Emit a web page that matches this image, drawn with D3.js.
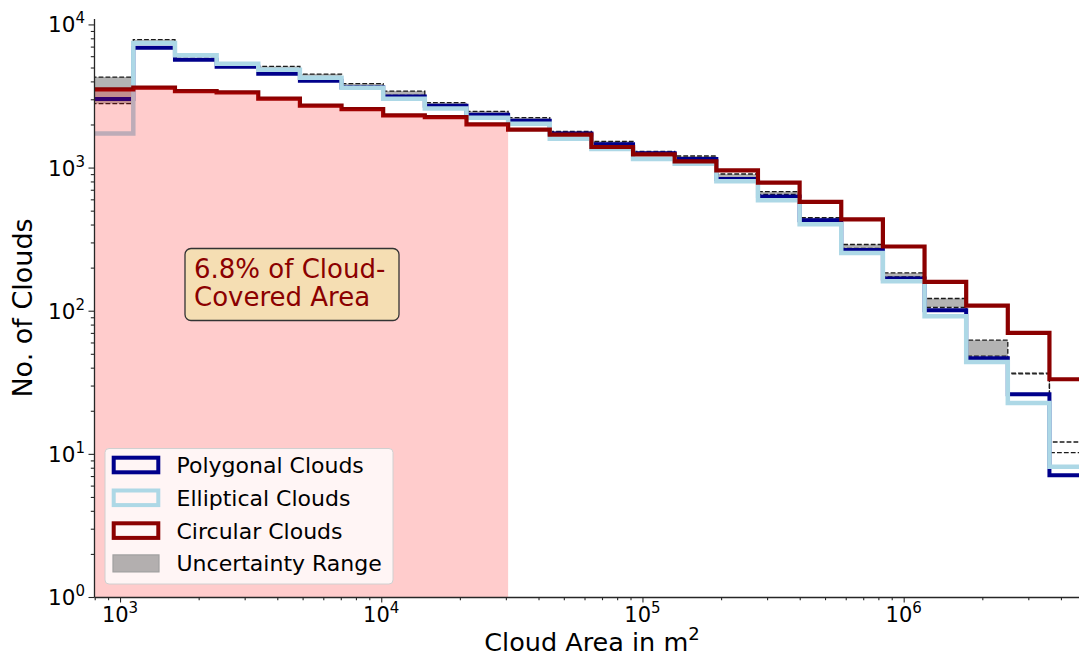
<!DOCTYPE html>
<html><head><meta charset="utf-8">
<script src="https://cdn.jsdelivr.net/npm/d3@7"></script>
<style>body{margin:0;background:#fff} svg{display:block} text{font-family:"DejaVu Sans",sans-serif}</style>
</head><body><svg id="c" width="1079" height="657"></svg>
<script>
// ---- data ----
const binEdges = [779, 1124, 1623, 2343, 3382, 4882, 7047, 10172, 14683, 21200, 30600, 44170, 63760, 92040, 132860, 191800, 276800, 399600, 576800, 832600, 1202000, 1735000, 2504000, 3614000, 5218000];
const polygonal  = [3010, 6880, 5670, 5070, 4530, 4045, 3640, 3143, 2707, 2342, 2127, 1730, 1453, 1260, 1150, 832, 627, 428, 266, 168, 100.8, 46.6, 26.1, 7.1];
const elliptical = [1730, 7410, 6080, 5320, 4830, 4245, 3615, 3030, 2581, 2232, 2027, 1592, 1350, 1148, 1065, 802, 591, 402, 253, 160.7, 91.5, 43.9, 22.7, 8.13];
const circular   = [3520, 3620, 3420, 3350, 3030, 2706, 2564, 2316, 2254, 2004, 1841, 1698, 1392, 1237, 1106, 957, 785, 575, 435, 281, 159, 108.4, 70, 33.2];
const rangeLower = [2800, 7400, 5950, 5250, 4850, 4270, 3740, 3194, 2735, 2366, 2161, 1742, 1480, 1265, 1155, 851, 650, 436, 272, 172, 105.3, 48.1, 36.2, 10.2];
const rangeUpper = [4290, 7820, 6120, 5380, 5090, 4500, 3855, 3425, 2840, 2471, 2232, 1791, 1525, 1298, 1205, 902, 679, 447, 290, 183.6, 121.7, 62.3, 36.6, 12.1];
const shadeLimit = 30600;
const xTickValues = [1e3, 1e4, 1e5, 1e6];
const yTickValues = [1, 10, 100, 1000, 10000];
const annotationLines = ["6.8% of Cloud-", "Covered Area"];
const legendLabels = ["Polygonal Clouds", "Elliptical Clouds", "Circular Clouds", "Uncertainty Range"];
const xLabel = "Cloud Area in m";
const yLabel = "No. of Clouds";

// ---- layout ----
const svg = d3.select("#c");
const L = 94, R = 1079, T = 18.5, B = 597;
const x = d3.scaleLog().domain([795, 4.69e6]).range([L, R]);
const y = d3.scaleLog().domain([1, 11000]).range([B, T]);

svg.append("defs").append("clipPath").attr("id", "clip")
  .append("rect").attr("x", L).attr("y", T).attr("width", R - L).attr("height", B - T);
const plot = svg.append("g").attr("clip-path", "url(#clip)");

function steps(vals) {
  const pts = [];
  for (let i = 0; i < vals.length; i++) {
    pts.push([binEdges[i], vals[i]]);
    pts.push([binEdges[i + 1], vals[i]]);
  }
  return pts;
}
const line = d3.line().x(d => x(d[0])).y(d => y(d[1]));

// uncertainty fill (step-post style: last two bins not filled)
const nFill = polygonal.length - 2;
const fillPts = [];
for (let i = 0; i < nFill; i++) {
  fillPts.push([binEdges[i], rangeLower[i], rangeUpper[i]]);
  fillPts.push([binEdges[i + 1], rangeLower[i], rangeUpper[i]]);
}
plot.append("path").datum(fillPts)
  .attr("d", d3.area().x(d => x(d[0])).y0(d => y(d[1])).y1(d => y(d[2])))
  .attr("fill", "#808080").attr("fill-opacity", 0.6);

[rangeLower, rangeUpper].forEach(arr => {
  plot.append("path").datum(steps(arr)).attr("d", line)
    .attr("fill", "none").attr("stroke", "#1a1a1a").attr("stroke-width", 1.3)
    .attr("stroke-dasharray", "4.8,2.1");
});

const series = [
  {vals: polygonal, color: "#00008B", w: 4},
  {vals: elliptical, color: "#ADD8E6", w: 4.5},
  {vals: circular, color: "#8B0000", w: 4.2}
];
series.forEach(s => {
  plot.append("path").datum(steps(s.vals)).attr("d", line)
    .attr("fill", "none").attr("stroke", s.color).attr("stroke-width", s.w)
    .attr("stroke-linejoin", "miter");
});

// red shaded area under circular curve up to shadeLimit
const shadePts = [];
circular.forEach((v, i) => {
  if (binEdges[i + 1] <= shadeLimit) {
    shadePts.push([binEdges[i], v]);
    shadePts.push([binEdges[i + 1], v]);
  }
});
plot.append("path").datum(shadePts)
  .attr("d", d3.area().x(d => x(d[0])).y0(B).y1(d => y(d[1])))
  .attr("fill", "rgb(255,0,0)").attr("fill-opacity", 0.2);

// ---- axes ----
const axisColor = "#262626";
function minorTicks(domain) {
  const out = [];
  for (let e = Math.floor(Math.log10(domain[0])); e <= Math.ceil(Math.log10(domain[1])); e++) {
    for (let k = 2; k <= 9; k++) {
      const v = k * Math.pow(10, e);
      if (v >= domain[0] && v <= domain[1]) out.push(v);
    }
  }
  return out;
}
svg.append("g").attr("transform", `translate(0,${B})`)
  .call(d3.axisBottom(x).tickValues(xTickValues).tickFormat("").tickSize(5.5).tickSizeOuter(0));
const xMinor = svg.append("g").attr("transform", `translate(0,${B})`)
  .call(d3.axisBottom(x).tickValues(minorTicks(x.domain())).tickFormat("").tickSize(3.2).tickSizeOuter(0));
xMinor.select(".domain").remove();
svg.append("g").attr("transform", `translate(${L},0)`)
  .call(d3.axisLeft(y).tickValues(yTickValues).tickFormat("").tickSize(5.5).tickSizeOuter(0));
const yMinor = svg.append("g").attr("transform", `translate(${L},0)`)
  .call(d3.axisLeft(y).tickValues(minorTicks(y.domain())).tickFormat("").tickSize(3.2).tickSizeOuter(0));
yMinor.select(".domain").remove();
svg.selectAll(".domain").attr("stroke", axisColor).attr("stroke-width", 1.3);
svg.selectAll(".tick line").attr("stroke", axisColor).attr("stroke-width", 1.1);

xTickValues.forEach(v => {
  const t = svg.append("text").attr("x", x(v)).attr("y", 621.5).attr("text-anchor", "middle")
    .attr("font-size", 21).attr("fill", "#000");
  t.append("tspan").text("10");
  t.append("tspan").attr("font-size", 15).attr("dy", -9).text(Math.round(Math.log10(v)));
});
yTickValues.forEach(v => {
  const t = svg.append("text").attr("x", 85).attr("y", y(v) + 8).attr("text-anchor", "end")
    .attr("font-size", 21.5).attr("fill", "#000");
  t.append("tspan").text("10");
  t.append("tspan").attr("font-size", 15).attr("dy", -9).text(Math.round(Math.log10(v)));
});

const xl = svg.append("text").attr("x", 592).attr("y", 651).attr("text-anchor", "middle")
  .attr("font-size", 25.5).attr("fill", "#000");
xl.append("tspan").text(xLabel);
xl.append("tspan").attr("font-size", 18).attr("dy", -11).text("2");
svg.append("text").attr("transform", "translate(32,308) rotate(-90)").attr("text-anchor", "middle")
  .attr("font-size", 27).attr("fill", "#000").text(yLabel);

// ---- annotation box ----
svg.append("rect").attr("x", 185).attr("y", 248.5).attr("width", 214).attr("height", 72)
  .attr("rx", 6).attr("fill", "#F5DEB3").attr("stroke", "#333").attr("stroke-width", 1.3);
annotationLines.forEach((s, i) => {
  svg.append("text").attr("x", 194).attr("y", 278 + i * 28).attr("font-size", 26)
    .attr("fill", "#8B0000").text(s);
});

// ---- legend ----
const lg = svg.append("g");
lg.append("rect").attr("x", 105).attr("y", 448.5).attr("width", 288).attr("height", 135.5)
  .attr("rx", 4).attr("fill", "#fff").attr("fill-opacity", 0.8).attr("stroke", "#d0d0d0").attr("stroke-width", 1);
const legendStyles = [
  {stroke: "#00008B", fill: "none"},
  {stroke: "#ADD8E6", fill: "none"},
  {stroke: "#8B0000", fill: "none"},
  {stroke: "#a0a0a0", fill: "#808080"}
];
legendLabels.forEach((lab, i) => {
  const cy = 465 + i * 32.8;
  const st = legendStyles[i];
  if (st.fill === "none") {
    lg.append("rect").attr("x", 113.7).attr("y", cy - 7.3).attr("width", 44.6).attr("height", 14.6)
      .attr("fill", "none").attr("stroke", st.stroke).attr("stroke-width", 4);
  } else {
    lg.append("rect").attr("x", 113).attr("y", cy - 8.5).attr("width", 46).attr("height", 17)
      .attr("fill", st.fill).attr("fill-opacity", 0.6).attr("stroke", st.stroke).attr("stroke-width", 1.2);
  }
  lg.append("text").attr("x", 176.5).attr("y", cy + 8).attr("font-size", 22).attr("fill", "#000").text(lab);
});
</script></body></html>
